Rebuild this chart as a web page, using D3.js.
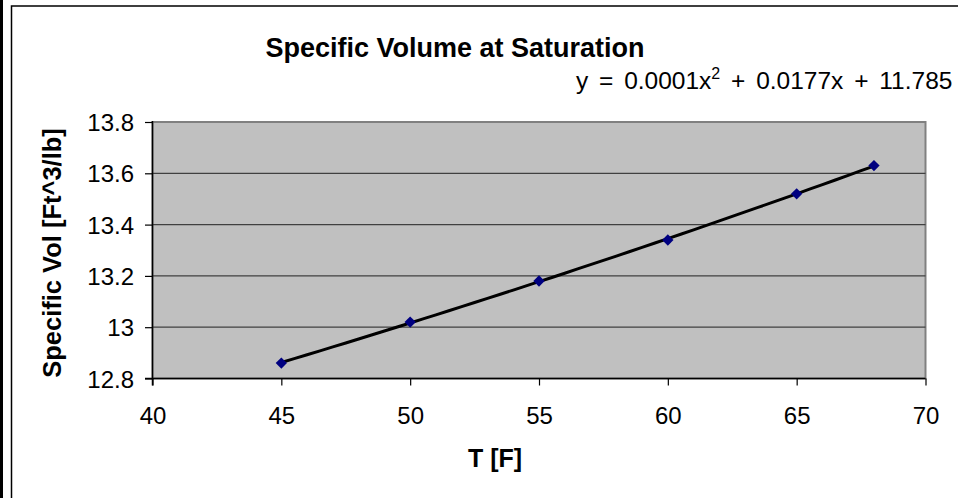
<!DOCTYPE html>
<html>
<head>
<meta charset="utf-8">
<script src="https://cdn.jsdelivr.net/npm/d3@7"></script>
<style>
  body { margin: 0; background: #fff; overflow: hidden; }
  text { font-family: "Liberation Sans", Arial, sans-serif; fill: #000; }
</style>
</head>
<body>
<svg id="chart" width="958" height="498"></svg>
<script>
// data
const temps = [45, 50, 55, 60, 65, 68];
const specVol = [12.86, 13.02, 13.18, 13.34, 13.52, 13.63];
const xTicks = [40, 45, 50, 55, 60, 65, 70];
const yTicks = [12.8, 13.0, 13.2, 13.4, 13.6, 13.8];

const svg = d3.select("#chart");

// outer chart frame
svg.append("rect").attr("x", 0).attr("y", 0).attr("width", 3).attr("height", 498).attr("fill", "#000");
svg.append("rect")
    .attr("x", 11.5).attr("y", 6).attr("width", 1000).attr("height", 1000)
    .attr("fill", "#fff").attr("stroke", "#000").attr("stroke-width", 1.5);

const plot = { left: 152.5, right: 925.5, top: 122, bottom: 378.5 };

const x = d3.scaleLinear().domain([40, 70]).range([plot.left, plot.right]);
const y = d3.scaleLinear().domain([12.8, 13.8]).range([plot.bottom, plot.top]);

// plot background
svg.append("rect")
    .attr("x", plot.left).attr("y", plot.top)
    .attr("width", plot.right - plot.left).attr("height", plot.bottom - plot.top)
    .attr("fill", "#c0c0c0").attr("stroke", "#808080").attr("stroke-width", 2);

// gridlines
svg.append("g").selectAll("line")
    .data(yTicks.filter(d => d > 12.8 && d < 13.8))
    .enter().append("line")
    .attr("x1", plot.left).attr("x2", plot.right)
    .attr("y1", d => y(d)).attr("y2", d => y(d))
    .attr("stroke", "#404040").attr("stroke-width", 1.2);

// axes
const yAxis = d3.axisLeft(y).tickValues(yTicks).tickSize(7.5).tickPadding(11)
    .tickFormat(d => String(+d.toFixed(1)));
const gy = svg.append("g").attr("transform", `translate(${plot.left},0)`).call(yAxis);
gy.select(".domain").remove();
gy.selectAll(".tick line").attr("stroke", "#000").attr("stroke-width", 1.2);
gy.selectAll("text").attr("font-size", 24).attr("dy", "0.36em");

const xAxis = d3.axisBottom(x).tickValues(xTicks).tickSize(7).tickPadding(21);
const gx = svg.append("g").attr("transform", `translate(0,${plot.bottom})`).call(xAxis);
gx.select(".domain").remove();
gx.selectAll(".tick line").attr("stroke", "#000").attr("stroke-width", 1.2);
gx.selectAll("text").attr("font-size", 24);

svg.append("line")
    .attr("x1", plot.left).attr("x2", plot.left).attr("y1", plot.top - 1).attr("y2", plot.bottom + 7)
    .attr("stroke", "#000").attr("stroke-width", 1.5);
svg.append("line")
    .attr("x1", plot.left - 7.5).attr("x2", plot.right).attr("y1", plot.bottom).attr("y2", plot.bottom)
    .attr("stroke", "#000").attr("stroke-width", 1.5);

// least squares quadratic trendline through the points
function quadFit(xs, ys) {
  const s = [0, 0, 0, 0, 0], t = [0, 0, 0];
  xs.forEach((xi, i) => {
    for (let k = 0; k < 5; k++) s[k] += Math.pow(xi, k);
    for (let k = 0; k < 3; k++) t[k] += Math.pow(xi, k) * ys[i];
  });
  const A = [[s[0], s[1], s[2], t[0]], [s[1], s[2], s[3], t[1]], [s[2], s[3], s[4], t[2]]];
  for (let i = 0; i < 3; i++) {
    for (let j = i + 1; j < 3; j++) {
      const f = A[j][i] / A[i][i];
      for (let k = i; k < 4; k++) A[j][k] -= f * A[i][k];
    }
  }
  const c = [0, 0, 0];
  for (let i = 2; i >= 0; i--) {
    let v = A[i][3];
    for (let k = i + 1; k < 3; k++) v -= A[i][k] * c[k];
    c[i] = v / A[i][i];
  }
  return c;
}
const coef = quadFit(temps, specVol);
const trendX = d3.range(temps[0], temps[temps.length - 1] + 0.001, 0.5);
const line = d3.line().x(d => x(d)).y(d => y(coef[0] + coef[1] * d + coef[2] * d * d));
svg.append("path").datum(trendX).attr("d", line)
    .attr("fill", "none").attr("stroke", "#000").attr("stroke-width", 3);

// markers
svg.append("g").selectAll("path")
    .data(temps.map((t, i) => [t, specVol[i]]))
    .enter().append("path")
    .attr("d", d3.symbol().type(d3.symbolSquare).size(64))
    .attr("transform", d => `translate(${x(d[0])},${y(d[1])}) rotate(45)`)
    .attr("fill", "#000080");

// titles
svg.append("text").attr("x", 455).attr("y", 56.5).attr("text-anchor", "middle")
    .attr("font-size", 27).attr("font-weight", "bold").text("Specific Volume at Saturation");

const eq = svg.append("text").attr("x", 576).attr("y", 89).attr("font-size", 24.5)
    .attr("word-spacing", 4);
eq.append("tspan").text("y = 0.0001x");
eq.append("tspan").attr("font-size", 16).attr("dy", -10).text("2");
eq.append("tspan").attr("dy", 10).text(" + 0.0177x + 11.785");

svg.append("text").attr("transform", "translate(61,253) rotate(-90)").attr("text-anchor", "middle")
    .attr("font-size", 25.5).attr("font-weight", "bold").text("Specific Vol [Ft^3/lb]");

svg.append("text").attr("x", 495).attr("y", 467).attr("text-anchor", "middle")
    .attr("font-size", 25).attr("font-weight", "bold").text("T [F]");
</script>
</body>
</html>
